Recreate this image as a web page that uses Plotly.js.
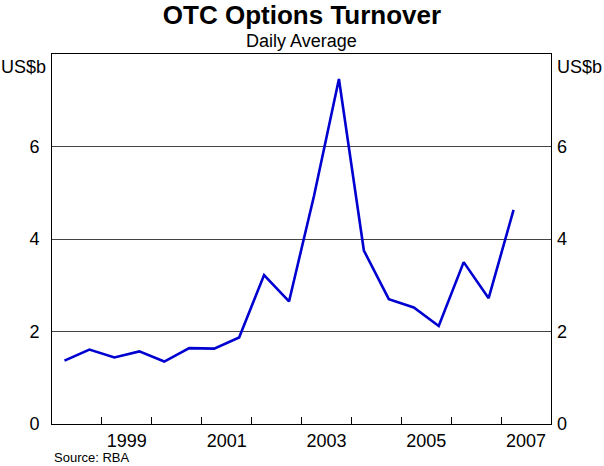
<!DOCTYPE html>
<html>
<head>
<meta charset="utf-8">
<script src="https://cdn.plot.ly/plotly-3.0.1.min.js"></script>
<style>html,body{margin:0;padding:0;background:#fff}#chart{width:604px;height:466px}</style>
</head>
<body>
<div id="chart"></div>
<script>
// Semi-annual observations (year positions)
const periods = [1998.25,1998.75,1999.25,1999.75,2000.25,2000.75,2001.25,2001.75,2002.25,2002.75,2003.25,2003.75,2004.25,2004.75,2005.25,2005.75,2006.25,2006.75,2007.25];
const turnover = [1.37,1.61,1.44,1.57,1.35,1.64,1.63,1.87,3.22,2.65,4.93,7.46,3.75,2.70,2.52,2.12,3.50,2.72,4.63];
const yearTicks = [1999,2000,2001,2002,2003,2004,2005,2006,2007];
const labelPos = [1999.5,2001.5,2003.5,2005.5,2007.5];
const labelText = ['1999','2001','2003','2005','2007'];
const yTicks = [0,2,4,6];

const FONT = 'Liberation Sans, Arial, Helvetica, sans-serif';

const data = [
  {x: periods, y: turnover, type: 'scatter', mode: 'lines',
   line: {color: '#0000D0', width: 2.6}, xaxis: 'x', yaxis: 'y', hoverinfo: 'skip'},
  {x: [periods[0]], y: [turnover[0]], type: 'scatter', mode: 'none', xaxis: 'x2', yaxis: 'y2', hoverinfo: 'skip', showlegend: false}
];

const layout = {
  width: 604, height: 466,
  margin: {l: 52, r: 53, t: 54, b: 42},
  paper_bgcolor: '#ffffff', plot_bgcolor: '#ffffff',
  showlegend: false,
  font: {family: FONT, color: '#000', size: 18},
  title: {text: '<b>OTC Options Turnover</b>', font: {family: FONT, size: 26, color: '#000'},
          x: 0.5, xanchor: 'center', y: 1 - 15/466, yanchor: 'middle', yref: 'container'},
  xaxis: {range: [1998, 2008], tickvals: yearTicks, ticks: 'inside', ticklen: 7, tickcolor: '#000',
          tickwidth: 1, showticklabels: false, showgrid: false, zeroline: false,
          showline: true, linecolor: '#000', linewidth: 1, mirror: true, fixedrange: true},
  xaxis2: {range: [1998, 2008], overlaying: 'x', side: 'bottom', anchor: 'y', tickvals: labelPos,
           ticktext: labelText, ticks: '', showgrid: false, zeroline: false, showline: false,
           tickfont: {family: FONT, size: 18, color: '#000'}, ticklabelstandoff: 4, fixedrange: true},
  yaxis: {range: [0, 8], tickvals: yTicks, ticks: '', showgrid: true, gridcolor: '#444', gridwidth: 1,
          zeroline: false, showline: true, linecolor: '#000', linewidth: 1, mirror: true,
          tickfont: {family: FONT, size: 18, color: '#000'}, ticklabelstandoff: 8, fixedrange: true},
  yaxis2: {range: [0, 8], overlaying: 'y', side: 'right', anchor: 'x', tickvals: yTicks, ticks: '',
           showgrid: false, zeroline: false, showline: false,
           tickfont: {family: FONT, size: 18, color: '#000'}, ticklabelstandoff: 5, fixedrange: true},
  annotations: [
    {text: 'Daily Average', xref: 'paper', yref: 'paper', x: 0.5, y: 1, yshift: 13,
     xanchor: 'center', yanchor: 'middle', showarrow: false, font: {family: FONT, size: 18, color: '#000'}},
    {text: 'US$b', xref: 'paper', yref: 'paper', x: 0, xshift: -53, y: 1, yshift: -13, xanchor: 'left', yanchor: 'middle',
     showarrow: false, font: {family: FONT, size: 18, color: '#000'}},
    {text: 'US$b', xref: 'paper', yref: 'paper', x: 1, xshift: 4, y: 1, yshift: -13, xanchor: 'left', yanchor: 'middle',
     showarrow: false, font: {family: FONT, size: 18, color: '#000'}},
    {text: 'Source: RBA', xref: 'paper', yref: 'paper', x: 0, xshift: 1, y: 0, yshift: -33, xanchor: 'left', yanchor: 'middle',
     showarrow: false, font: {family: FONT, size: 13, color: '#000'}, borderpad: 0}
  ]
};

Plotly.newPlot('chart', data, layout, {staticPlot: true, displayModeBar: false});
</script>
</body>
</html>
